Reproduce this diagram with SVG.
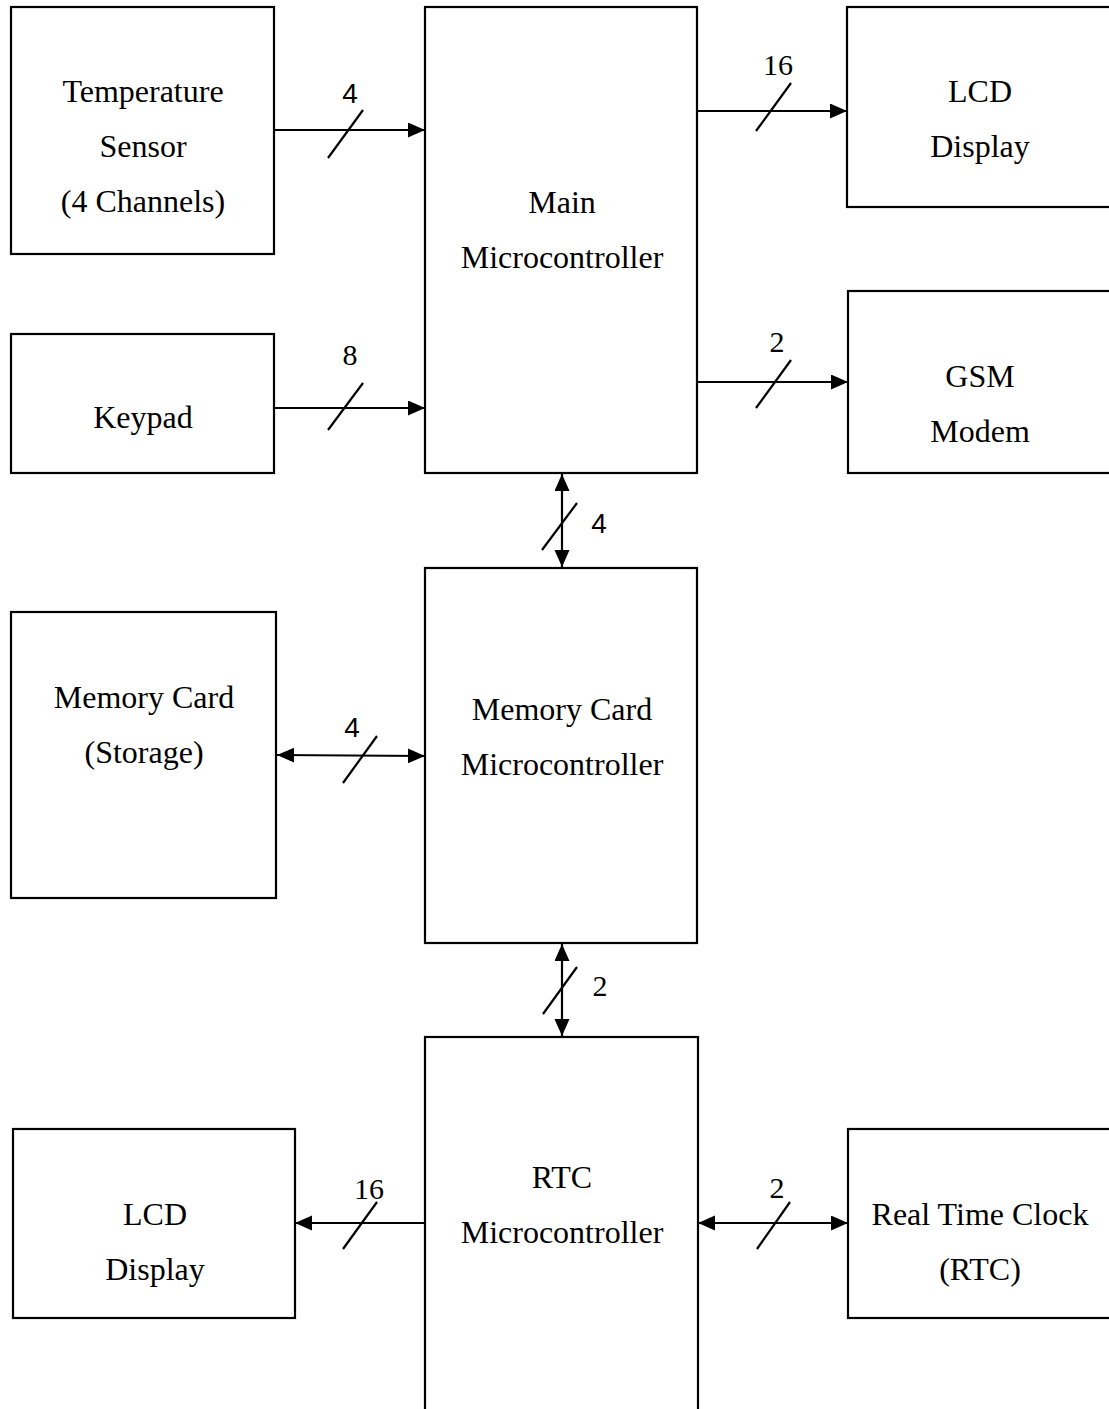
<svg xmlns="http://www.w3.org/2000/svg" width="1109" height="1409" viewBox="0 0 1109 1409">
<style>
.box{fill:#fff;stroke:#000;stroke-width:2.2}
.t{font-family:"Liberation Serif","Times New Roman",serif;font-size:32px;text-anchor:middle;fill:#000}
.n{font-family:"Liberation Serif","Times New Roman",serif;font-size:30px;text-anchor:middle;fill:#000}
.s{font-family:"Liberation Sans",Arial,sans-serif;font-size:28px;text-anchor:middle;fill:#000}
.c{stroke:#000;stroke-width:2.2;fill:none}
.sl{stroke:#000;stroke-width:2.2}
</style>
<defs>
<marker id="ah" markerUnits="userSpaceOnUse" markerWidth="18" markerHeight="16" refX="17" refY="7.5" orient="auto-start-reverse">
<path d="M0,0 L17,7.5 L0,15 z" fill="#000"/>
</marker>
</defs>
<rect width="1109" height="1409" fill="#fff"/>
<g id="temp-sensor">
<rect class="box" x="11" y="7" width="263" height="247"/>
<text class="t" x="143" y="102">Temperature</text>
<text class="t" x="143" y="157">Sensor</text>
<text class="t" x="143" y="212">(4 Channels)</text>
</g>
<g id="main-mcu">
<rect class="box" x="425" y="7" width="272" height="466"/>
<text class="t" x="562" y="213">Main</text>
<text class="t" x="562" y="268">Microcontroller</text>
</g>
<g id="lcd-top">
<rect class="box" x="847" y="7" width="270" height="200"/>
<text class="t" x="980" y="102">LCD</text>
<text class="t" x="980" y="157">Display</text>
</g>
<g id="keypad">
<rect class="box" x="11" y="334" width="263" height="139"/>
<text class="t" x="143" y="428">Keypad</text>
</g>
<g id="gsm">
<rect class="box" x="848" y="291" width="270" height="182"/>
<text class="t" x="980" y="387">GSM</text>
<text class="t" x="980" y="442">Modem</text>
</g>
<g id="memory-card">
<rect class="box" x="11" y="612" width="265" height="286"/>
<text class="t" x="144" y="708">Memory Card</text>
<text class="t" x="144" y="763">(Storage)</text>
</g>
<g id="memcard-mcu">
<rect class="box" x="425" y="568" width="272" height="375"/>
<text class="t" x="562" y="720">Memory Card</text>
<text class="t" x="562" y="775">Microcontroller</text>
</g>
<g id="rtc-mcu">
<rect class="box" x="425" y="1037" width="273" height="400"/>
<text class="t" x="562" y="1188">RTC</text>
<text class="t" x="562" y="1243">Microcontroller</text>
</g>
<g id="lcd-bottom">
<rect class="box" x="13" y="1129" width="282" height="189"/>
<text class="t" x="155" y="1225">LCD</text>
<text class="t" x="155" y="1280">Display</text>
</g>
<g id="rtc">
<rect class="box" x="848" y="1129" width="270" height="189"/>
<text class="t" x="980" y="1225">Real Time Clock</text>
<text class="t" x="980" y="1280">(RTC)</text>
</g>
<g id="connectors">
<line class="c" x1="274" y1="130" x2="425" y2="130" marker-end="url(#ah)"/>
<line class="sl" x1="328" y1="158" x2="363" y2="110"/>
<text class="s" x="350" y="103">4</text>

<line class="c" x1="697" y1="111" x2="847" y2="111" marker-end="url(#ah)"/>
<line class="sl" x1="756" y1="131" x2="791" y2="83"/>
<text class="n" x="778" y="75">16</text>

<line class="c" x1="274" y1="408" x2="425" y2="408" marker-end="url(#ah)"/>
<line class="sl" x1="328" y1="430" x2="363" y2="383"/>
<text class="n" x="350" y="365">8</text>

<line class="c" x1="697" y1="382" x2="848" y2="382" marker-end="url(#ah)"/>
<line class="sl" x1="756" y1="408" x2="791" y2="360"/>
<text class="n" x="777" y="352">2</text>

<line class="c" x1="562" y1="474" x2="562" y2="567" marker-start="url(#ah)" marker-end="url(#ah)"/>
<line class="sl" x1="542" y1="550" x2="577" y2="503"/>
<text class="s" x="599" y="533">4</text>

<line class="c" x1="277" y1="755" x2="425" y2="756" marker-start="url(#ah)" marker-end="url(#ah)"/>
<line class="sl" x1="343" y1="783" x2="377" y2="736"/>
<text class="s" x="352" y="737">4</text>

<line class="c" x1="562" y1="944" x2="562" y2="1036" marker-start="url(#ah)" marker-end="url(#ah)"/>
<line class="sl" x1="543" y1="1014" x2="577" y2="967"/>
<text class="n" x="600" y="996">2</text>

<line class="c" x1="425" y1="1223" x2="295" y2="1223" marker-end="url(#ah)"/>
<line class="sl" x1="343" y1="1249" x2="377" y2="1202"/>
<text class="n" x="369" y="1199">16</text>

<line class="c" x1="698" y1="1223" x2="848" y2="1223" marker-start="url(#ah)" marker-end="url(#ah)"/>
<line class="sl" x1="757" y1="1249" x2="790" y2="1202"/>
<text class="n" x="777" y="1198">2</text>
</g>
</svg>
